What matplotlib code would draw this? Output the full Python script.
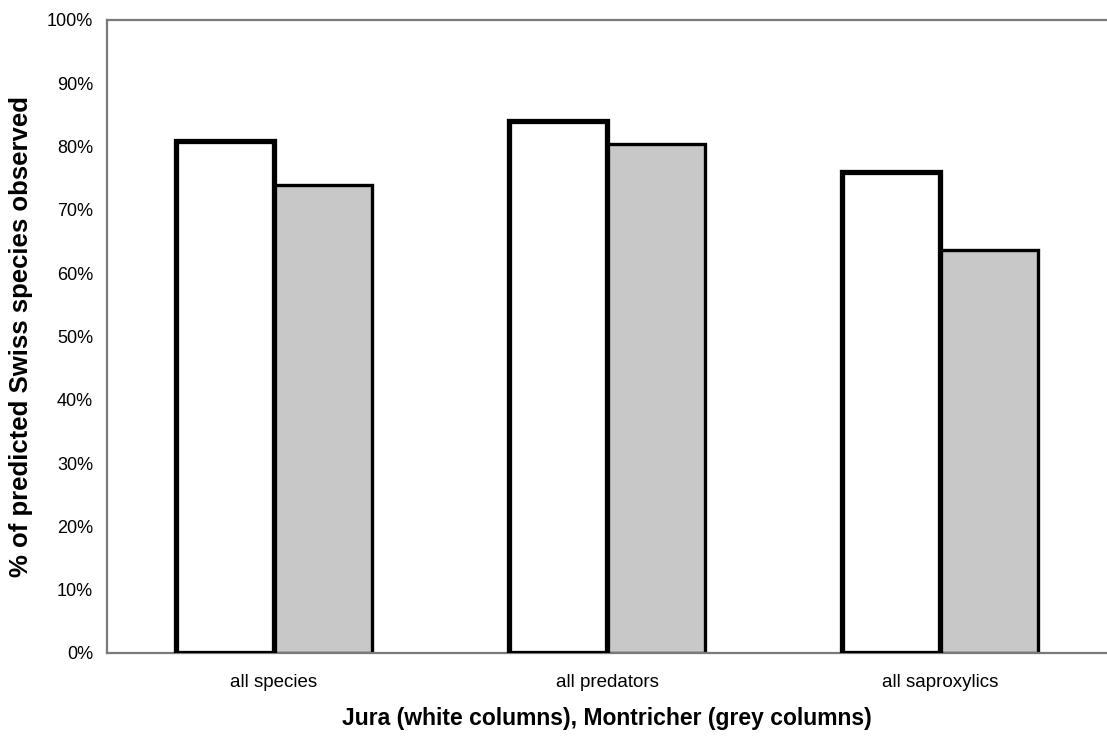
import numpy as np
from matplotlib import pyplot as plt

plt.rcParams['font.family'] = ['Liberation Sans', 'DejaVu Sans']

# values (% of predicted Swiss species observed)
categories = ["all species", "all predators", "all saproxylics"]
jura = [80.9, 84.0, 76.0]
montricher = [73.9, 80.4, 63.7]
yticks = np.arange(0, 101, 10)

x = np.arange(len(categories))
w = 0.294

fig = plt.figure(figsize=(11.07, 7.4), dpi=100)
ax = fig.add_axes([0.0967, 0.1176, 0.9033, 0.8554])

ax.bar(x - w / 2, jura, width=w, color="white", edgecolor="black", linewidth=3.8, zorder=3)
ax.bar(x + w / 2, montricher, width=w, color="#c8c8c8", edgecolor="black", linewidth=2.4, zorder=2)

ax.set_xlim(-0.5, 2.5)
ax.set_ylim(0, 100)
ax.set_yticks(yticks)
ax.set_yticklabels([f"{v}%" for v in yticks], fontsize=13)
ax.set_xticks(x)
ax.set_xticklabels(categories, fontsize=13.5)
ax.tick_params(axis="y", length=0, pad=10)
ax.tick_params(axis="x", length=0, pad=15)

for s in ["left", "top", "bottom"]:
    ax.spines[s].set_color("#7a7a7a")
    ax.spines[s].set_linewidth(1.6)
ax.spines["right"].set_visible(False)

ax.set_ylabel("% of predicted Swiss species observed", fontsize=18.5, fontweight="bold", labelpad=10)
ax.set_xlabel("Jura (white columns), Montricher (grey columns)", fontsize=16.5, fontweight="bold", labelpad=12)

fig.savefig("out.png", dpi=100)
